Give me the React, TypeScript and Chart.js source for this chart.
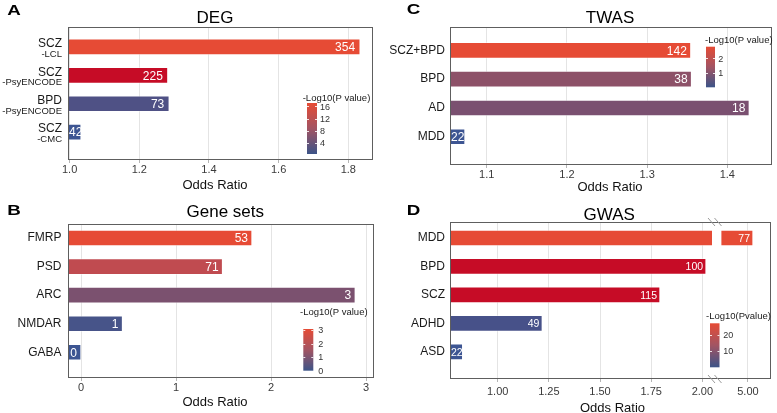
import React, { useEffect, useRef } from 'react';
import { Chart, registerables } from 'chart.js';
Chart.register(...registerables);

const FONT = '"Liberation Sans", Arial, Helvetica, sans-serif';

// ---------------- DATA ----------------
// Panel A: DEG
const degCategories = [['SCZ', '-LCL'], ['SCZ', '-PsyENCODE'], ['BPD', '-PsyENCODE'], ['SCZ', '-CMC']];
const degOddsRatio = [1.834, 1.282, 1.286, 1.033];
const degGeneCounts = [354, 225, 73, 42];
const degColors = ['#E64B35', '#C60C26', '#4F5185', '#3D5592'];
const degTicks = [1.0, 1.2, 1.4, 1.6, 1.8];
const degLegendTicks = [4, 8, 12, 16];

// Panel B: Gene sets
const geneSetCategories = ['FMRP', 'PSD', 'ARC', 'NMDAR', 'GABA'];
const geneSetOddsRatio = [1.8, 1.49, 2.887, 0.437, 0.0];
const geneSetCounts = [53, 71, 3, 1, 0];
const geneSetColors = ['#E64B35', '#C04B50', '#7B516F', '#475489', '#3D5592'];
const geneSetTicks = [0, 1, 2, 3];
const geneSetLegendTicks = [0, 1, 2, 3];

// Panel C: TWAS
const twasCategories = ['SCZ+BPD', 'BPD', 'AD', 'MDD'];
const twasOddsRatio = [1.3545, 1.3554, 1.4274, 1.0729];
const twasCounts = [142, 38, 18, 22];
const twasColors = ['#E64B35', '#8D5168', '#7A5070', '#3D5592'];
const twasTicks = [1.1, 1.2, 1.3, 1.4];
const twasLegendTicks = [1, 2];

// Panel D: GWAS (broken x axis)
const gwasCategories = ['MDD', 'BPD', 'SCZ', 'ADHD', 'ASD'];
const gwasOddsRatio = [5.1, 2.018, 1.793, 1.218, 0.829];
const gwasCounts = [77, 100, 115, 49, 22];
const gwasColors = ['#E64B35', '#C60C26', '#C60C26', '#475189', '#3D5592'];
const gwasTicks = [1.0, 1.25, 1.5, 1.75, 2.0];
const gwasUpperTicks = [5.0];
const gwasLegendTicks = [10, 20];

// ---------------- PANEL SPECS ----------------
const SPECS: any[] = [
  {
    left: 0, top: 0, w: 388, h: 195,
    pad: { left: 0, right: 15, top: 27 }, yWidth: 68, xHeight: 35,
    xMin: 0.9954, xMax: 1.8709, xTicks: degTicks, digits: 1, tickPad: 0,
    yMin: 0.3, yMax: 4.98, yPad: 6, twoLine: true,
    categories: degCategories, values: degOddsRatio, counts: degGeneCounts, colors: degColors,
    valueFont: 12, valueGap: 5,
    letter: 'A', letterPos: [7.3, 15], title: 'DEG', titlePos: [215, 17.2], xTitlePos: [215, 184.7],
    legend: { title: '-Log10(P value)', titleX: 302.7, titleY: 97.7, x: 307, y: 103, w: 10, h: 51, min: 0.4, max: 17.1, ticks: degLegendTicks, labelX: 320 },
  },
  {
    left: 0, top: 195, w: 388, h: 218,
    pad: { left: 0, right: 14, top: 29 }, yWidth: 68, xHeight: 35,
    xMin: -0.137, xMax: 3.084, xTicks: geneSetTicks, digits: 0, tickPad: 0.7,
    yMin: 0.51, yMax: 5.9, yPad: 6.5,
    categories: geneSetCategories, values: geneSetOddsRatio, counts: geneSetCounts, colors: geneSetColors,
    valueFont: 12, valueGap: 4,
    letter: 'B', letterPos: [7.3, 20], title: 'Gene sets', titlePos: [225.3, 16], xTitlePos: [215, 206.7],
    legend: { title: '-Log10(P value)', titleX: 300, titleY: 116.7, x: 303.3, y: 134, w: 10, h: 41.7, min: 0, max: 3.07, ticks: geneSetLegendTicks, labelX: 318.3 },
  },
  {
    left: 388, top: 0, w: 389, h: 195,
    pad: { left: 0, right: 5, top: 27 }, yWidth: 62, xHeight: 30,
    xMin: 1.0542, xMax: 1.4557, xTicks: twasTicks, digits: 1, tickPad: 0,
    yMin: 0.19, yMax: 4.98, yPad: 5,
    categories: twasCategories, values: twasOddsRatio, counts: twasCounts, colors: twasColors,
    valueFont: 12, valueGap: 4,
    letter: 'C', letterPos: [18.7, 14], title: 'TWAS', titlePos: [222, 17.2], xTitlePos: [222, 186.3],
    legend: { title: '-Log10(P value)', titleX: 317, titleY: 40, x: 318, y: 46.7, w: 9, h: 40.6, min: 0, max: 2.8, ticks: twasLegendTicks, labelX: 330.3 },
  },
  {
    left: 388, top: 195, w: 389, h: 218,
    pad: { left: 0, right: 6, top: 27 }, yWidth: 62, xHeight: 34,
    xMin: 0.767, xMax: 2.047, xTicks: gwasTicks, digits: 2, tickPad: 3,
    upper: { min: 4.3, max: 5.45, base: 4.47, ticks: gwasUpperTicks, weights: [262, 59] },
    yMin: 0.44, yMax: 5.95, yPad: 5,
    categories: gwasCategories, values: gwasOddsRatio, counts: gwasCounts, colors: gwasColors,
    valueFont: 10.5, valueGap: 3,
    letter: 'D', letterPos: [18.7, 20], title: 'GWAS', titlePos: [221.2, 19], xTitlePos: [224.5, 212.5],
    legend: { title: '-Log10(Pvalue)', titleX: 318, titleY: 120.7, x: 322, y: 128.3, w: 9.5, h: 44, min: -0.5, max: 27.4, ticks: gwasLegendTicks, labelX: 335.3 },
  },
];

// ---------------- PLUGIN ----------------
const capText = (ctx: any, text: string, x: number, capCenterY: number, size: number) => {
  ctx.fillText(text, x, capCenterY + 0.358 * size);
};

const panelPlugin = {
  id: 'panel',
  beforeDatasetDraw(chart: any, args: any) {
    const { ctx, chartArea: ca } = chart;
    const xs = args.meta.xScale;
    ctx.save();
    ctx.beginPath();
    ctx.rect(xs.left, ca.top, xs.right - xs.left, ca.bottom - ca.top);
    ctx.clip();
  },
  afterDatasetDraw(chart: any) {
    chart.ctx.restore();
  },
  afterDatasetsDraw(chart: any, _args: any, o: any) {
    const { ctx, chartArea: ca } = chart;
    ctx.save();
    // value labels inside bars
    chart.data.datasets.forEach((ds: any, di: number) => {
      const meta = chart.getDatasetMeta(di);
      const xs = meta.xScale;
      meta.data.forEach((bar: any, i: number) => {
        const count = ds.counts ? ds.counts[i] : undefined;
        if (count === undefined || count === null) return;
        if (!isFinite(bar.x) || bar.x > xs.right + 0.5) return;
        ctx.font = `${o.valueFont}px ${FONT}`;
        const text = String(count);
        const w = ctx.measureText(text).width;
        let right = bar.x - o.valueGap;
        const minRight = Math.max(bar.base, xs.left) + 1 + w;
        if (right < minRight) right = minRight;
        ctx.fillStyle = '#ffffff';
        ctx.textAlign = 'right';
        ctx.textBaseline = 'alphabetic';
        capText(ctx, text, right, bar.y, o.valueFont);
      });
    });
    // frame
    ctx.strokeStyle = '#5e5e5e';
    ctx.lineWidth = 1;
    const l = Math.round(ca.left), t = Math.round(ca.top), r = Math.round(ca.right), b = Math.round(ca.bottom);
    ctx.strokeRect(l + 0.5, t + 0.5, r - l - 1, b - t - 1);
    // axis break marks
    if (o.breakAt) {
      const bx = chart.scales.x.right;
      ctx.strokeStyle = '#9a9a9a';
      ctx.lineWidth = 1;
      [t, b].forEach((yy) => {
        [bx - 0.5, bx + 6].forEach((cx) => {
          ctx.beginPath();
          ctx.moveTo(cx - 3.5, yy - 4);
          ctx.lineTo(cx + 3.5, yy + 4);
          ctx.stroke();
        });
      });
    }
    ctx.restore();
  },
  afterDraw(chart: any, _args: any, o: any) {
    const { ctx } = chart;
    ctx.save();
    ctx.textBaseline = 'alphabetic';
    // panel letter
    ctx.fillStyle = '#000';
    ctx.font = `bold 15px ${FONT}`;
    ctx.textAlign = 'left';
    ctx.save();
    ctx.translate(o.letterPos[0], o.letterPos[1]);
    ctx.scale(1.25, 1);
    ctx.fillText(o.letter, 0, 0);
    ctx.restore();
    // title
    ctx.font = `17px ${FONT}`;
    ctx.textAlign = 'center';
    capText(ctx, o.title, o.titlePos[0], o.titlePos[1], 17);
    // x axis title
    ctx.font = `13px ${FONT}`;
    ctx.fillStyle = '#111';
    capText(ctx, 'Odds Ratio', o.xTitlePos[0], o.xTitlePos[1], 13);
    // two-line y labels
    if (o.twoLine) {
      const ys = chart.scales.y;
      const xr = chart.chartArea.left - o.yPad;
      ctx.textAlign = 'right';
      ctx.fillStyle = '#1a1a1a';
      o.categories.forEach((lab: string[], i: number) => {
        const c = ys.getPixelForValue(i + 1);
        ctx.font = `12px ${FONT}`;
        capText(ctx, lab[0], xr, c - 4, 12);
        ctx.font = `9.5px ${FONT}`;
        capText(ctx, lab[1], xr, c + 6.5, 9.5);
      });
    }
    // colour bar legend
    const lg = o.legend;
    const grad = ctx.createLinearGradient(0, lg.y, 0, lg.y + lg.h);
    grad.addColorStop(0, '#E64B35');
    grad.addColorStop(0.5, '#A25463');
    grad.addColorStop(1, '#3C5488');
    ctx.fillStyle = grad;
    ctx.fillRect(lg.x, lg.y, lg.w, lg.h);
    const vy = (v: number) => lg.y + (lg.h * (lg.max - v)) / (lg.max - lg.min);
    ctx.strokeStyle = 'rgba(255,255,255,0.85)';
    ctx.lineWidth = 1;
    ctx.font = `9px ${FONT}`;
    ctx.textAlign = 'left';
    lg.ticks.forEach((v: number) => {
      const yy = Math.round(vy(v)) + 0.5;
      ctx.beginPath();
      ctx.moveTo(lg.x, yy); ctx.lineTo(lg.x + 2, yy);
      ctx.moveTo(lg.x + lg.w - 2, yy); ctx.lineTo(lg.x + lg.w, yy);
      ctx.stroke();
      ctx.fillStyle = '#333';
      capText(ctx, String(v), lg.labelX, vy(v), 9);
    });
    ctx.fillStyle = '#1a1a1a';
    ctx.font = `9.5px ${FONT}`;
    capText(ctx, lg.title, lg.titleX, lg.titleY, 9.5);
    ctx.restore();
  },
};

// ---------------- CONFIG ----------------
function xAxis(s: any, min: number, max: number, ticks: number[], extra: any = {}) {
  return {
    type: 'linear',
    position: 'bottom',
    offset: false,
    min,
    max,
    afterBuildTicks: (sc: any) => { sc.ticks = ticks.map((v) => ({ value: v })); },
    afterFit: (sc: any) => { sc.height = s.xHeight; sc.paddingLeft = 0; sc.paddingRight = 0; },
    ticks: {
      autoSkip: false,
      maxRotation: 0,
      padding: s.tickPad,
      color: '#3a3a3a',
      font: { family: FONT, size: 11 },
      callback: (v: any) => Number(v).toFixed(s.digits),
    },
    grid: { color: '#e4e4e4', lineWidth: 1, drawTicks: true, tickLength: 3, tickColor: '#b5b5b5', offset: false },
    border: { display: false },
    title: { display: false },
    ...extra,
  };
}

function buildConfig(s: any) {
  const points = (vals: number[]) => vals.map((v, i) => ({ x: v, y: i + 1 }));
  const common = {
    borderColor: 'rgba(255,255,255,0.4)',
    borderWidth: 1,
    borderSkipped: false,
    barThickness: 16,
    grouped: false,
    yAxisID: 'y',
  };
  const datasets: any[] = [
    { ...common, data: points(s.values), counts: s.counts, backgroundColor: s.colors, base: s.xMin, xAxisID: 'x' },
  ];
  const scales: any = {};
  if (s.upper) {
    scales.x = xAxis(s, s.xMin, s.xMax, s.xTicks, { stack: 'xs', stackWeight: s.upper.weights[0] });
    scales.x2 = xAxis(s, s.upper.min, s.upper.max, s.upper.ticks, { stack: 'xs', stackWeight: s.upper.weights[1] });
    datasets.push({
      ...common,
      data: [{ x: s.values[0], y: 1 }],
      counts: [s.counts[0]],
      backgroundColor: [s.colors[0]],
      base: s.upper.base,
      xAxisID: 'x2',
    });
    datasets[0].counts = s.counts.map((c: number, i: number) => (i === 0 ? null : c));
  } else {
    scales.x = xAxis(s, s.xMin, s.xMax, s.xTicks);
  }
  scales.y = {
    type: 'linear',
    position: 'left',
    reverse: true,
    offset: false,
    min: s.yMin,
    max: s.yMax,
    afterBuildTicks: (sc: any) => { sc.ticks = s.categories.map((_: any, i: number) => ({ value: i + 1 })); },
    afterFit: (sc: any) => { sc.width = s.yWidth; sc.paddingTop = 0; sc.paddingBottom = 0; },
    ticks: {
      display: !s.twoLine,
      autoSkip: false,
      padding: s.yPad,
      color: '#1a1a1a',
      font: { family: FONT, size: 12 },
      callback: (v: any) => {
        const c = s.categories[Math.round(v) - 1];
        return Array.isArray(c) ? c.join(' ') : c;
      },
    },
    grid: { display: false, drawTicks: false, offset: false },
    border: { display: false },
  };
  return {
    type: 'bar',
    data: { datasets },
    options: {
      indexAxis: 'y',
      responsive: false,
      maintainAspectRatio: false,
      animation: false,
      devicePixelRatio: 1,
      layout: { autoPadding: false, padding: { left: s.pad.left, right: s.pad.right, top: s.pad.top, bottom: 0 } },
      scales,
      plugins: {
        legend: { display: false },
        title: { display: false },
        tooltip: { enabled: false },
        panel: {
          valueFont: s.valueFont,
          valueGap: s.valueGap,
          letter: s.letter,
          letterPos: s.letterPos,
          title: s.title,
          titlePos: s.titlePos,
          xTitlePos: s.xTitlePos,
          twoLine: !!s.twoLine,
          categories: s.categories,
          yPad: s.yPad,
          legend: s.legend,
          breakAt: !!s.upper,
        },
      },
    },
    plugins: [panelPlugin],
  };
}

function Panel({ spec }: { spec: any }) {
  const ref = useRef<HTMLCanvasElement>(null);
  useEffect(() => {
    const chart = new Chart(ref.current as HTMLCanvasElement, buildConfig(spec) as any);
    return () => chart.destroy();
  }, [spec]);
  return (
    <canvas
      ref={ref}
      width={spec.w}
      height={spec.h}
      style={{ position: 'absolute', left: spec.left, top: spec.top, width: spec.w, height: spec.h }}
    />
  );
}

export default function App() {
  return (
    <div style={{ position: 'fixed', left: 0, top: 0, width: 777, height: 413, background: '#ffffff', overflow: 'hidden' }}>
      {SPECS.map((s, i) => (
        <Panel key={i} spec={s} />
      ))}
    </div>
  );
}
